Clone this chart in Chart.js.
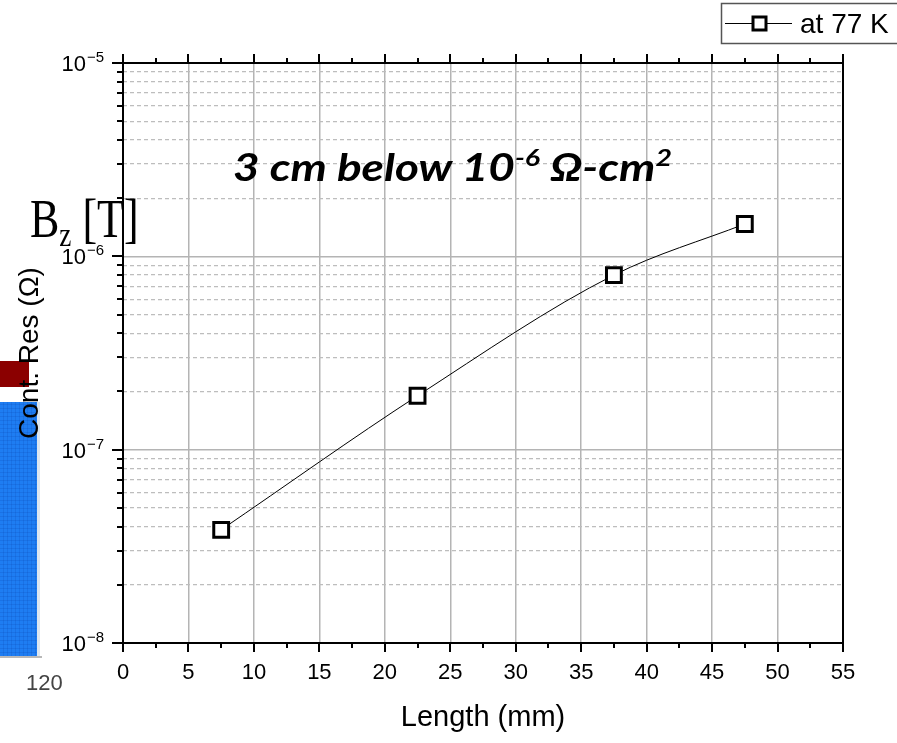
<!DOCTYPE html>
<html><head><meta charset="utf-8">
<script src="https://cdn.jsdelivr.net/npm/chart.js@4"></script>
<style>
html,body{margin:0;padding:0;background:#fff;width:897px;height:743px;overflow:hidden}
#wrap{position:relative;width:897px;height:743px}
canvas{position:absolute;left:0;top:0}
.ov{position:absolute;white-space:nowrap;line-height:1}
#note{left:233px;top:147px;font-family:Lato,"Open Sans",sans-serif;font-weight:700;font-style:italic;font-size:38px;color:#000;transform-origin:0 0}
#note sup{font-size:0.62em;vertical-align:0.62em;line-height:0}
#bz{left:30px;top:192px;font-family:"Liberation Serif","Times New Roman",serif;font-size:44px;color:#000;transform:scaleY(1.25);transform-origin:0 0}
#bz sub{font-size:0.62em;vertical-align:-0.25em;line-height:0}
#n120{left:26px;top:672px;font-family:"Liberation Sans",Arial,sans-serif;font-size:22px;color:#444}
</style></head><body>
<div id="wrap">
<canvas id="c" width="897" height="743"></canvas>
<div class="ov" id="note">3 cm below 10<sup>-6</sup> Ω-cm<sup>2</sup></div>
<div class="ov" id="bz">B<sub>z</sub> [T]</div>
<div class="ov" id="n120">120</div>
</div>
<script>
// ---- data ----
const lengths = [7.5, 22.5, 37.5, 47.5];
const contRes = [3.85e-8, 1.9e-7, 8.0e-7, 1.47e-6];
const xTickValues = [0, 5, 10, 15, 20, 25, 30, 35, 40, 45, 50, 55];
const yDecades = [1e-8, 1e-7, 1e-6, 1e-5];
const yDecadeBase = '10';
const yDecadeExps = ['\u22128', '\u22127', '\u22126', '\u22125'];
const seriesLabel = 'at 77 K';

const FONT = '"Liberation Sans", Arial, sans-serif';

// fit annotation width to the reference text span
function fitNote() {
  const el = document.getElementById('note');
  el.style.transform = 'none';
  const w = el.getBoundingClientRect().width;
  el.style.transform = 'scaleX(' + (439 / w) + ')';
}
fitNote();
if (document.fonts && document.fonts.ready) document.fonts.ready.then(fitNote);

// all y tick positions (majors + minors 2..9)
const yAllTicks = [];
for (let d = 0; d < yDecades.length; d++) {
  yAllTicks.push(yDecades[d]);
  if (d < yDecades.length - 1) {
    for (let m = 2; m <= 9; m++) yAllTicks.push(+(m * yDecades[d]).toPrecision(3));
  }
}
function decadeIndex(v) { return yDecades.findIndex(d => Math.abs(v / d - 1) < 1e-6); }
function isDecade(v) { return decadeIndex(v) >= 0; }
function isEdgeY(v) { const i = decadeIndex(v); return i === 0 || i === yDecades.length - 1; }

const decor = {
  id: 'decor',
  beforeDraw(chart) {
    const ctx = chart.ctx;
    ctx.save();
    // blue block (overlapping image fragment)
    ctx.fillStyle = '#1e7df2';
    ctx.fillRect(0, 402, 37, 254);
    ctx.strokeStyle = 'rgba(0,40,140,0.12)';
    ctx.lineWidth = 1;
    for (let x = 3.5; x < 37; x += 4) { ctx.beginPath(); ctx.moveTo(x, 402); ctx.lineTo(x, 656); ctx.stroke(); }
    for (let y = 404.5; y < 656; y += 4) { ctx.beginPath(); ctx.moveTo(0, y); ctx.lineTo(37, y); ctx.stroke(); }
    ctx.fillStyle = '#dde6ef';
    ctx.fillRect(37, 402, 3, 256);
    ctx.fillStyle = '#b8b8b8';
    ctx.fillRect(0, 656, 42, 2);
    // red block
    ctx.fillStyle = '#8b0000';
    ctx.fillRect(0, 361, 29, 26);
    ctx.restore();
  },
  afterDraw(chart) {
    const ctx = chart.ctx;
    const a = chart.chartArea;
    const xs = chart.scales.x, ys = chart.scales.y;
    ctx.save();
    ctx.strokeStyle = '#000';
    ctx.lineWidth = 2;
    ctx.lineCap = 'butt';
    // y ticks (outward left) and decade labels with superscript exponent
    yAllTicks.forEach(v => {
      const py = Math.round(ys.getPixelForValue(v));
      const i = decadeIndex(v);
      const len = i >= 0 ? 11 : 6;
      ctx.beginPath(); ctx.moveTo(a.left - len, py); ctx.lineTo(a.left, py); ctx.stroke();
      if (i >= 0) {
        ctx.fillStyle = '#000';
        ctx.textAlign = 'right';
        ctx.textBaseline = 'alphabetic';
        ctx.font = '15px ' + FONT;
        const rightEdge = a.left - 19;
        const supW = ctx.measureText(yDecadeExps[i]).width;
        ctx.fillText(yDecadeExps[i], rightEdge, py - 1);
        ctx.font = '22px ' + FONT;
        ctx.fillText(yDecadeBase, rightEdge - supW - 1, py + 8);
      }
    });
    // x ticks bottom & top (outward)
    for (let v = xs.min; v <= xs.max + 1e-9; v += 2.5) {
      const px = Math.round(xs.getPixelForValue(v));
      const major = Math.abs(v % 5) < 1e-9;
      const len = major ? 9 : 5;
      ctx.beginPath(); ctx.moveTo(px, a.bottom); ctx.lineTo(px, a.bottom + len); ctx.stroke();
      ctx.beginPath(); ctx.moveTo(px, a.top); ctx.lineTo(px, a.top - len); ctx.stroke();
    }
    // frame
    ctx.strokeRect(a.left, a.top, a.right - a.left, a.bottom - a.top);
    // legend
    ctx.lineWidth = 1.5;
    ctx.strokeStyle = '#555';
    ctx.strokeRect(721.5, 3.5, 200, 40);
    ctx.strokeStyle = '#000';
    ctx.lineWidth = 1;
    ctx.beginPath(); ctx.moveTo(725, 23.5); ctx.lineTo(792, 23.5); ctx.stroke();
    ctx.fillStyle = '#fff';
    ctx.fillRect(753, 17, 13, 13);
    ctx.lineWidth = 3;
    ctx.strokeRect(753, 17, 13, 13);
    ctx.fillStyle = '#000';
    ctx.textAlign = 'left';
    ctx.font = '28px ' + FONT;
    ctx.textBaseline = 'alphabetic';
    ctx.fillText(seriesLabel, 800, 33);
    ctx.restore();
  }
};

new Chart(document.getElementById('c'), {
  type: 'line',
  data: {
    datasets: [{
      label: seriesLabel,
      data: lengths.map((x, i) => ({ x: x, y: contRes[i] })),
      borderColor: '#000',
      borderWidth: 1,
      pointStyle: 'rect',
      pointRadius: 10.5,
      pointHoverRadius: 10.5,
      pointBorderWidth: 3,
      pointBorderColor: '#000',
      pointBackgroundColor: '#fff',
      cubicInterpolationMode: 'monotone',
      fill: false,
      clip: false
    }]
  },
  options: {
    responsive: false,
    animation: false,
    events: [],
    layout: { padding: { left: 0, top: 63, right: 54, bottom: 0 } },
    plugins: { legend: { display: false }, tooltip: { enabled: false } },
    scales: {
      x: {
        type: 'linear',
        min: 0, max: 55,
        afterBuildTicks: s => { s.ticks = xTickValues.map(v => ({ value: v })); },
        afterFit: s => { s.height = 100; },
        ticks: { font: { family: FONT, size: 22 }, color: '#000', padding: 17, maxRotation: 0, autoSkip: false },
        grid: {
          drawTicks: false,
          color: c => (c.tick && (c.tick.value === 0 || c.tick.value === 55)) ? 'rgba(0,0,0,0)' : '#b4b4b4',
          lineWidth: 1.5
        },
        border: { display: false },
        title: { display: true, text: 'Length (mm)', font: { family: FONT, size: 29 }, color: '#000', padding: { top: 0, bottom: 8 } }
      },
      y: {
        type: 'logarithmic',
        min: 1e-8, max: 1e-5,
        afterBuildTicks: s => { s.ticks = yAllTicks.map(v => ({ value: v })); },
        afterFit: s => { s.width = 123; },
        ticks: {
          autoSkip: false,
          font: { family: FONT, size: 22 },
          color: '#000',
          padding: 19,
          callback: () => ''
        },
        grid: {
          drawTicks: false,
          color: c => (c.tick && isEdgeY(c.tick.value)) ? 'rgba(0,0,0,0)' : (c.tick && isDecade(c.tick.value) ? '#b4b4b4' : '#bdbdbd'),
          lineWidth: c => (c.tick && isDecade(c.tick.value)) ? 1.5 : 1.2
        },
        border: {
          display: false,
          dash: c => (c.tick && isDecade(c.tick.value)) ? [] : [4, 3]
        },
        title: { display: true, text: 'Cont. Res (Ω)', font: { family: FONT, size: 28 }, color: '#000', padding: { top: 13, bottom: 0 } }
      }
    }
  },
  plugins: [decor]
});
</script>
</body></html>
